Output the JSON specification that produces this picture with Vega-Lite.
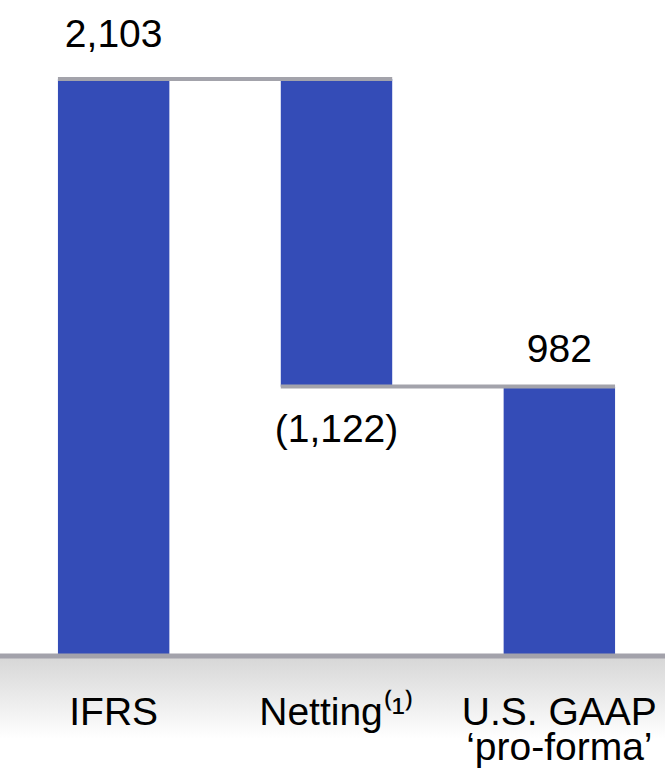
{
  "$schema": "https://vega.github.io/schema/vega-lite/v6.json",
  "width": 665,
  "height": 774,
  "padding": 0,
  "autosize": {"type": "none"},
  "config": {"view": {"stroke": null}, "font": "Liberation Sans"},
  "datasets": {
    "steps": [
      {"category": "IFRS", "start": 0, "end": 2103, "amount": 2103},
      {"category": "Netting⁽¹⁾", "start": 2103, "end": 981, "amount": -1122},
      {"category": "U.S. GAAP|‘pro-forma’", "start": 0, "end": 982, "amount": 982}
    ],
    "links": [
      {"from": "IFRS", "to": "Netting⁽¹⁾", "level": 2103},
      {"from": "Netting⁽¹⁾", "to": "U.S. GAAP|‘pro-forma’", "level": 982}
    ]
  },
  "layer": [
    {
      "data": {"values": [{}]},
      "mark": {
        "type": "rect",
        "fill": {
          "gradient": "linear", "x1": 0, "y1": 0, "x2": 0, "y2": 1,
          "stops": [
            {"offset": 0, "color": "#d6d6d6"},
            {"offset": 0.7, "color": "#ffffff"}
          ]
        }
      },
      "encoding": {
        "y": {"datum": 0, "type": "quantitative", "scale": {"domain": [-430, 2391], "nice": false, "zero": false}, "axis": null},
        "y2": {"datum": -430}
      }
    },
    {
      "data": {"name": "steps"},
      "mark": {"type": "bar", "color": "#344cb7"},
      "encoding": {
        "x": {
          "field": "category", "type": "nominal", "sort": null,
          "scale": {"domain": ["IFRS", "Netting⁽¹⁾", "U.S. GAAP|‘pro-forma’"], "range": [0, 673], "paddingInner": 0.5, "paddingOuter": 0.26},
          "axis": {
            "title": null, "orient": "bottom", "offset": -118, "domain": false, "ticks": false, "tickSize": 0,
            "labelFontSize": 39, "labelColor": "#000000", "labelPadding": 68, "labelBaseline": "alphabetic",
            "labelLineHeight": 35, "labelAngle": 0, "labelFont": "Liberation Sans", "zindex": 2,
            "labelOverlap": false, "labelBound": false, "labelFlush": false, "labelLimit": 0,
            "labelExpr": "split(datum.label, '|')"
          }
        },
        "y": {"field": "start", "type": "quantitative", "scale": {"domain": [-430, 2391], "nice": false, "zero": false}, "axis": null},
        "y2": {"field": "end"}
      }
    },
    {
      "data": {"name": "links"},
      "mark": {"type": "rule", "color": "#a3a3ab", "strokeWidth": 4},
      "encoding": {
        "x": {"field": "from", "type": "nominal", "bandPosition": 0},
        "x2": {"field": "to", "bandPosition": 1},
        "y": {"field": "level", "type": "quantitative", "scale": {"domain": [-430, 2391], "nice": false, "zero": false}}
      }
    },
    {
      "data": {"values": [{}]},
      "mark": {"type": "rule", "color": "#a3a2ab", "strokeWidth": 5},
      "encoding": {
        "y": {"datum": 0, "type": "quantitative", "scale": {"domain": [-430, 2391], "nice": false, "zero": false}}
      }
    },
    {
      "data": {"name": "steps"},
      "transform": [{"filter": "datum.category == 'IFRS'"}],
      "mark": {"type": "text", "fontSize": 39, "color": "#000000", "baseline": "alphabetic", "dy": -32},
      "encoding": {
        "x": {"field": "category", "type": "nominal"},
        "y": {"field": "end", "type": "quantitative", "scale": {"domain": [-430, 2391], "nice": false, "zero": false}},
        "text": {"field": "amount", "type": "quantitative", "format": "(,"}
      }
    },
    {
      "data": {"name": "steps"},
      "transform": [{"filter": "datum.category == 'U.S. GAAP|‘pro-forma’'"}],
      "mark": {"type": "text", "fontSize": 39, "color": "#000000", "baseline": "alphabetic", "dy": -25},
      "encoding": {
        "x": {"field": "category", "type": "nominal"},
        "y": {"field": "end", "type": "quantitative", "scale": {"domain": [-430, 2391], "nice": false, "zero": false}},
        "text": {"field": "amount", "type": "quantitative", "format": "(,"}
      }
    },
    {
      "data": {"name": "steps"},
      "transform": [{"filter": "datum.amount < 0"}],
      "mark": {"type": "text", "fontSize": 39, "color": "#000000", "baseline": "alphabetic", "dy": 55},
      "encoding": {
        "x": {"field": "category", "type": "nominal"},
        "y": {"field": "end", "type": "quantitative", "scale": {"domain": [-430, 2391], "nice": false, "zero": false}},
        "text": {"field": "amount", "type": "quantitative", "format": "(,"}
      }
    }
  ]
}
